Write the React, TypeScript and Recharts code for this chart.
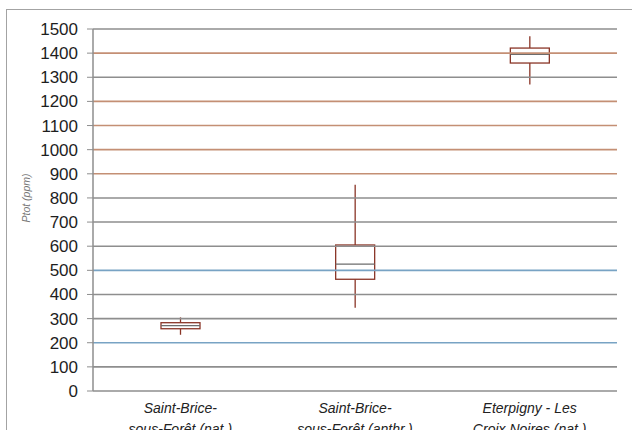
import React from 'react';
import { ComposedChart, Bar, XAxis, YAxis, ReferenceLine } from 'recharts';

const sites = [
  ['Saint-Brice-', 'sous-Forêt (nat.)'],
  ['Saint-Brice-', 'sous-Forêt (anthr.)'],
  ['Eterpigny - Les', 'Croix Noires (nat.)'],
];
const mins = [233, 345, 1270];
const q1s = [258, 463, 1359];
const medians = [271, 526, 1395];
const q3s = [283, 605, 1421];
const maxs = [305, 855, 1470];
const yTicks = [0, 100, 200, 300, 400, 500, 600, 700, 800, 900, 1000, 1100, 1200, 1300, 1400, 1500];
const boundaryTicks = [0, 1, 2, 3];

const data = sites.map((s, i) => ({
  name: i,
  range: [mins[i], maxs[i]],
  min: mins[i],
  q1: q1s[i],
  median: medians[i],
  q3: q3s[i],
  max: maxs[i],
}));

const orangeLines = [900, 1000, 1100, 1200, 1400];
const blueLines = [200, 500];
const lineColor = (v: number) =>
  orangeLines.includes(v) ? '#c48f74' : blueLines.includes(v) ? '#78a3c4' : '#8e8e8e';

const BoxShape = (props: any) => {
  const { x, y, width, height, payload } = props;
  const k = height / (payload.max - payload.min);
  const yOf = (v: number) => y + (payload.max - v) * k;
  const cx = x + width / 2;
  const stroke = '#8a3527';
  return (
    <g>
      <line x1={cx} x2={cx} y1={yOf(payload.max)} y2={yOf(payload.q3)} stroke={stroke} strokeWidth={1.3} />
      <line x1={cx} x2={cx} y1={yOf(payload.q1)} y2={yOf(payload.min)} stroke={stroke} strokeWidth={1.3} />
      <rect x={x} y={yOf(payload.q3)} width={width} height={yOf(payload.q1) - yOf(payload.q3)}
        fill="#fff" stroke={stroke} strokeWidth={1.3} />
      <line x1={x} x2={x + width} y1={yOf(payload.median)} y2={yOf(payload.median)} stroke="#6d6d6d" strokeWidth={1.2} />
    </g>
  );
};

const YTick = (props: any) => {
  const { x, y, payload } = props;
  return (
    <text x={x - 7} y={y} dy={6} textAnchor="end" fontSize={17} fill="#1e1e1e"
      fontFamily="'Liberation Sans', Arial, sans-serif">
      {payload.value}
    </text>
  );
};

const XTick = (props: any) => {
  const { x, y, payload } = props;
  const lines = sites[payload.value];
  return (
    <text x={x} y={y} textAnchor="middle" fontSize={14} fontStyle="italic" fill="#222"
      fontFamily="'Liberation Sans', Arial, sans-serif">
      <tspan x={x} dy={14}>{lines[0]}</tspan>
      <tspan x={x} dy={21}>{lines[1]}</tspan>
    </text>
  );
};

export default function App() {
  return (
    <div style={{ position: 'absolute', left: 0, top: 0, width: 632, height: 430, overflow: 'hidden', background: '#fff' }}>
      <div style={{ position: 'absolute', left: 6, top: 9, width: 700, height: 500, borderLeft: '1.5px solid #a3a3a3', borderTop: '1.5px solid #a3a3a3' }} />
      <ComposedChart width={632} height={430} data={data}
        margin={{ top: 29, right: 15, bottom: 0, left: 0 }}>
        {yTicks.map((v) => (
          <ReferenceLine key={v} y={v} stroke={lineColor(v)} strokeWidth={1.6} ifOverflow="extendDomain" />
        ))}
        <XAxis dataKey="name" type="category" tick={<XTick />} tickLine={false} axisLine={false}
          interval={0} height={39} />
        <XAxis xAxisId="edges" type="number" domain={[0, 3]} ticks={boundaryTicks} tick={false}
          tickLine={{ stroke: '#8e8e8e' }} tickSize={5} axisLine={{ stroke: '#8e8e8e', strokeWidth: 1.5 }}
          height={0} />
        <YAxis type="number" domain={[0, 1500]} ticks={yTicks} interval={0} width={93}
          tick={<YTick />} tickSize={6} tickLine={{ stroke: '#8e8e8e' }}
          axisLine={{ stroke: '#8e8e8e', strokeWidth: 1.5 }}
          label={{
            content: ({ viewBox }: any) => (
              <text x={viewBox.x + 30} y={viewBox.y + viewBox.height / 2 - 12} transform={`rotate(-90, ${viewBox.x + 30}, ${viewBox.y + viewBox.height / 2 - 12})`}
                textAnchor="middle" fontSize={10.5} fontStyle="italic" fill="#777"
                fontFamily="'Liberation Sans', Arial, sans-serif">
                Ptot (ppm)
              </text>
            ),
          }} />
        <Bar dataKey="range" barSize={39} shape={<BoxShape />} isAnimationActive={false} />
      </ComposedChart>
    </div>
  );
}
